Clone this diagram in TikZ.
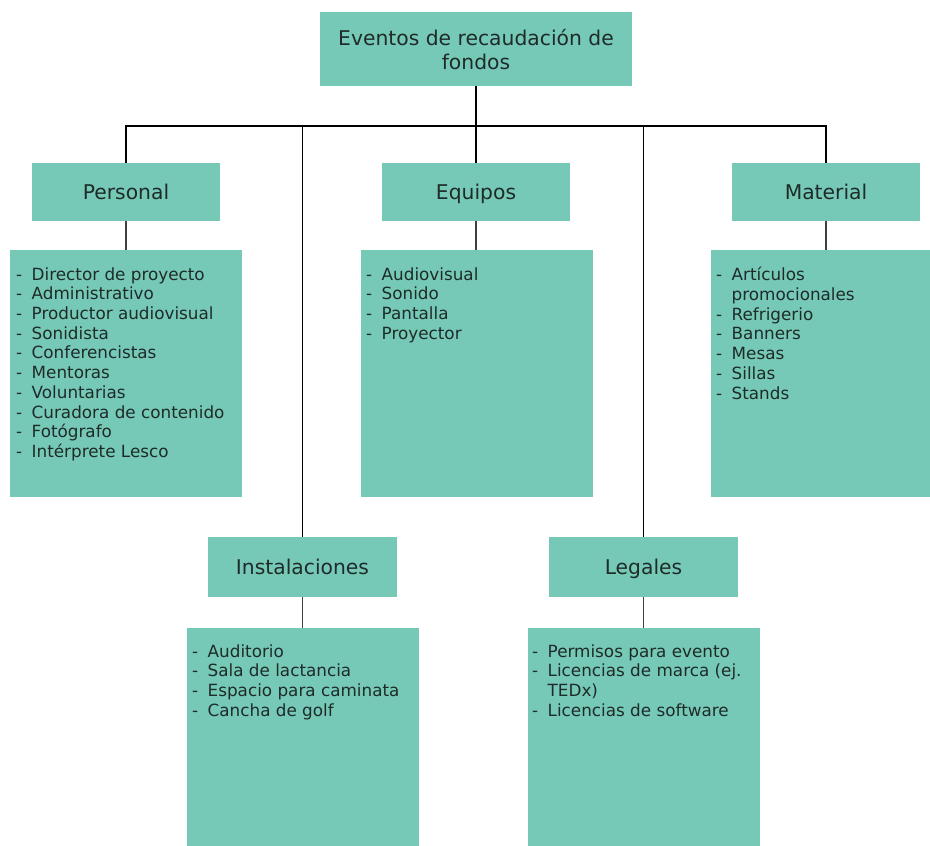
\documentclass[tikz,border=0pt]{standalone}
\usepackage{fontspec}
\setmainfont{DejaVu Sans}
\definecolor{boxfill}{HTML}{76C9B7}
\definecolor{ink}{HTML}{1F2B29}
% list entries: a dash, then the text; continuation lines keep the indent
\newcommand\itm[1]{\makebox[15.5pt][l]{-}#1}
\newcommand\cont[1]{\hspace*{15.5pt}#1}
\begin{document}
\begin{tikzpicture}[x=1pt,y=-1pt,
  box/.style={fill=boxfill, draw=none, inner sep=0pt, outer sep=0pt},
  head/.style={box, text=ink, font=\fontsize{20.3}{23}\selectfont,
    text height=14.8pt, text depth=0pt, minimum width=188pt, minimum height=58pt},
  listbox/.style={box, minimum width=232pt},
  items/.style={anchor=north west, inner sep=0pt, text=ink, align=left,
    font=\fontsize{16.8}{19.7}\selectfont},
  link/.style={draw=black, line width=1.3pt},
  sublink/.style={draw=black!75, line width=1.1pt}]
\useasboundingbox (0,0) rectangle (930,846);

% root
\node[box, minimum width=312pt, minimum height=74pt] (top) at (476,49) {};
\node[text=ink, inner sep=0pt, align=center, anchor=north,
  font=\fontsize{20.3}{24.5}\selectfont] (toptext) at (476,29)
  {Eventos de recaudación de\\fondos};

% first-level headings
\node[head] (phead) at (126,192) {Personal};
\node[head] (ehead) at (476,192) {Equipos};
\node[head] (mhead) at (826,192) {Material};
\node[head, minimum height=60pt, minimum width=189pt] (ihead) at (302.5,567) {Instalaciones};
\node[head, minimum height=60pt, minimum width=189pt] (lhead) at (643.5,567) {Legales};

% item boxes
\node[listbox, minimum height=247pt] (plist) at (126,373.5) {};
\node[listbox, minimum height=247pt] (elist) at (476.5,373.5) {};
\node[listbox, minimum height=247pt] (mlist) at (827,373.5) {};
\node[listbox, minimum height=242pt] (ilist) at (303,749) {};
\node[listbox, minimum height=242pt] (llist) at (644,749) {};

% item texts
\node[items] (ptext) at (16,267.2) {\itm{Director de proyecto}\\\itm{Administrativo}\\
  \itm{Productor audiovisual}\\\itm{Sonidista}\\\itm{Conferencistas}\\\itm{Mentoras}\\
  \itm{Voluntarias}\\\itm{Curadora de contenido}\\\itm{Fotógrafo}\\\itm{Intérprete Lesco}};
\node[items] (etext) at (366,267.2) {\itm{Audiovisual}\\\itm{Sonido}\\\itm{Pantalla}\\\itm{Proyector}};
\node[items] (mtext) at (716,267.2) {\itm{Artículos}\\\cont{promocionales}\\\itm{Refrigerio}\\
  \itm{Banners}\\\itm{Mesas}\\\itm{Sillas}\\\itm{Stands}};
\node[items] (itext) at (192,644.2) {\itm{Auditorio}\\\itm{Sala de lactancia}\\
  \itm{Espacio para caminata}\\\itm{Cancha de golf}};
\node[items] (ltext) at (532,644.2) {\itm{Permisos para evento}\\\itm{Licencias de marca (ej.}\\
  \cont{TEDx)}\\\itm{Licencias de software}};

% connectors
\coordinate (bus) at (476,126);
\draw[link] (top.south) -- (ehead.north);
\draw[link] (phead.north) -- (phead.north |- bus) -- (mhead.north |- bus) -- (mhead.north);
\draw[link] (ihead.north) -- (ihead.north |- bus);
\draw[link] (lhead.north) -- (lhead.north |- bus);
\draw[sublink] (phead.south) -- (phead.south |- plist.north);
\draw[sublink] (ehead.south) -- (ehead.south |- elist.north);
\draw[sublink] (mhead.south) -- (mhead.south |- mlist.north);
\draw[sublink] (ihead.south) -- (ihead.south |- ilist.north);
\draw[sublink] (lhead.south) -- (lhead.south |- llist.north);
\end{tikzpicture}
\end{document}
